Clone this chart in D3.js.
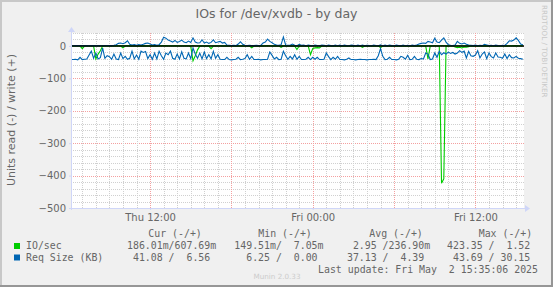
<!DOCTYPE html>
<html>
<head>
<meta charset="utf-8">
<script src="https://cdn.jsdelivr.net/npm/d3@7"></script>
<style>
  body { margin: 0; background: #f0f0f0; }
  svg { display: block; }
  text { font-family: "DejaVu Sans", sans-serif; fill: #666666; }
  .mono { font-family: "DejaVu Sans Mono", monospace; font-size: 9.9px; white-space: pre; }
</style>
</head>
<body>
<div id="chart"></div>
<script>
// first sample and sample step (minutes)
var firstSample = new Date(2025, 4, 1, 6, 10);
var stepMinutes = 10;
var timeStart = new Date(2025, 4, 1, 6, 10);
var timeEnd = new Date(2025, 4, 2, 15, 35);

// IO/sec, read (drawn below zero) and write
var ioRead = [
  0.2, 0.18, 0.22, 0.2, 0.25, 8, 0.2, 0.19, 0.21, 0.2,
  0.3, 40, 25, 15, 0.4, 0.2, 0.18, 0.2, 0.22, 0.2,
  0.19, 0.2, 0.25, 6, 0.2, 0.21, 0.18, 0.2, 0.2, 0.22,
  0.2, 0.19, 0.2, 0.21, 0.2, 0.18, 0.22, 0.2, 0.2, 0.19,
  0.2, 0.21, 0.2, 0.2, 0.18, 0.22, 0.2, 0.19, 0.2, 0.21,
  0.2, 0.2, 0.3, 1.5, 46, 30, 12, 0.5, 0.2, 0.21,
  0.2, 0.19, 8, 0.2, 0.2, 0.22, 0.18, 0.2, 0.2, 0.21,
  0.2, 0.19, 0.2, 0.2, 0.22, 0.2, 0.18, 0.2, 0.21, 0.2,
  6, 0.2, 0.19, 0.2, 0.21, 0.2, 0.2, 0.18, 0.22, 0.2,
  0.2, 0.19, 0.2, 4, 0.2, 0.21, 0.2, 0.18, 0.2, 0.2,
  11, 0.2, 0.19, 0.2, 0.22, 0.4, 27, 8, 6, 5,
  6, 0.3, 0.2, 0.19, 0.2, 0.21, 0.2, 0.18, 0.2, 0.2,
  0.22, 0.2, 0.19, 0.2, 0.2, 0.21, 0.2, 0.18, 0.2, 4,
  0.2, 0.21, 0.2, 0.19, 0.2, 0.2, 0.22, 5, 0.2, 0.2,
  0.19, 0.2, 0.21, 0.2, 0.2, 0.18, 0.2, 0.22, 0.2, 0.19,
  0.2, 0.2, 0.21, 0.2, 0.18, 0.2, 0.2, 0.3, 40, 0.5,
  0.2, 0.19, 0.2, 0.3, 423.35, 410, 0.4, 0.2, 0.21, 0.2,
  3, 5, 4, 6, 3, 4, 2, 0.3, 0.2, 0.19,
  0.2, 0.2, 0.21, 0.18, 0.2, 0.2, 0.22, 0.2, 0.19, 0.2,
  0.2, 0.21, 0.2, 0.18, 0.2, 0.2, 0.19, 0.2, 0.21, 0.2,
  0.19
];
var ioWrite = [
  0.2, 0.3, 0.1, 0.25, 0.4, 0.15, 0.2, 0.35, 0.1, 0.2,
  0.3, 0.2, 0.15, 0.25, 0.2, 0.4, 0.1, 0.2, 0.3, 0.2,
  0.5, 0.8, 0.6, 0.4, 0.7, 0.9, 0.3, 0.2, 0.25, 0.3,
  0.2, 0.3, 0.35, 0.4, 0.2, 0.25, 0.3, 0.2, 0.15, 0.6,
  1.2, 1.5, 1.1, 0.8, 0.7, 0.6, 0.9, 0.5, 0.7, 0.8,
  0.6, 0.5, 0.7, 0.6, 1.1, 0.5, 0.4, 0.5, 0.8, 0.4,
  0.5, 0.4, 0.6, 0.7, 0.4, 0.5, 0.6, 0.4, 0.5, 0.2,
  0.15, 0.1, 0.2, 0.1, 0.3, 0.5, 0.2, 0.1, 0.1, 0.15,
  0.1, 0.1, 0.2, 0.1, 0.15, 0.4, 0.5, 0.9, 0.6, 0.4,
  0.2, 0.15, 0.1, 0.2, 1.3, 0.2, 0.1, 0.1, 0.3, 0.1,
  0.05, 0.2, 0.1, 0.12, 0.05, 0.15, 0.07, 0.03, 0.12, 0.06,
  0.02, 0.15, 0.1, 0.03, 0.12, 0.05, 0.01, 0.14, 0.04, 0.11,
  0.03, 0.15, 0.05, 0.02, 0.13, 0.08, 0.03, 0.12, 0.04, 0.15,
  0.03, 0.1, 0.05, 0.02, 0.14, 0.06, 0.03, 0.15, 0.04, 0.11,
  0.02, 0.14, 0.05, 0.03, 0.12, 0.07, 0.01, 0.15, 0.04, 0.1,
  0.03, 0.13, 0.06, 0.15, 0.3, 0.4, 0.45, 0.4, 0.7, 0.6,
  0.5, 1.1, 0.6, 0.5, 0.9, 1.2, 0.6, 0.2, 0.1, 0.05,
  0.15, 0.7, 0.4, 0.3, 0.45, 0.25, 0.15, 0.1, 0.05, 0.12,
  0.04, 0.1, 0.05, 0.25, 0.15, 0.05, 0.1, 0.03, 0.12, 0.05,
  0.03, 0.11, 0.07, 0.4, 0.8, 0.75, 0.9, 1.2, 0.85, 0.6,
  0.61
];

// Req Size (KB), read (drawn below zero) and write
var reqRead = [
  42, 42, 41, 43, 35, 42, 41, 40, 28, 16,
  38, 22, 40, 36, 7, 38, 30, 33, 41, 25,
  40, 42, 22, 39, 32, 41, 38, 16, 40, 28,
  41, 16, 20, 17, 39, 27, 41, 22, 40, 16,
  30, 41, 22, 27, 16, 38, 41, 25, 40, 18,
  38, 40, 22, 39, 6.5, 25, 38, 22, 40, 18.5,
  39, 27, 40, 16.5, 38, 27, 41, 42, 42, 35,
  42, 43, 42, 41, 35, 42, 41, 39, 27, 41,
  32, 42, 42, 41, 43, 42, 42, 41, 18.5, 29,
  40, 35, 42, 41, 16.5, 30, 41, 32, 40, 27,
  41, 32, 42, 42, 41, 35, 42, 35, 41, 35,
  42, 42, 41, 21.6, 33, 42, 35, 41, 32, 42,
  42, 43, 41, 37, 42, 42, 43, 42, 41, 42,
  42, 43, 42, 42, 41, 42, 30, 8.2, 32, 42,
  41, 35, 42, 42, 43, 41, 32, 35, 41, 29,
  42, 41, 32, 41, 42, 39, 40, 21.6, 25, 42,
  40, 21.6, 35, 16.5, 27, 21, 25, 19, 23, 20,
  25, 22, 14.4, 20, 16, 37, 16.5, 30, 32, 28,
  14.4, 37, 25, 18.5, 39, 21.6, 33, 37, 21.6, 34,
  35, 38, 25, 39, 27, 36, 37, 32, 38, 39,
  41
];
var reqWrite = [
  1.2, 0.8, 1.5, 0.9, 1.1, 0.7, 1.3, 1.0, 0.8, 1.4,
  1.1, 0.9, 1.6, 1.0, 0.8, 1.2, 1.5, 0.9, 1.1, 2.0,
  4, 8, 9, 7, 10, 16, 5, 3, 4, 2,
  4, 3, 5, 8, 9, 6, 3, 4, 2, 4,
  12, 27, 24, 18, 15, 12, 17, 11, 14, 18,
  12, 10, 15, 11, 25, 12, 9, 10, 19, 9,
  12, 8, 11, 19, 10, 12, 14, 9, 11, 3,
  2, 1, 2, 1, 6, 13, 5, 2, 1, 2,
  1, 1, 2, 1, 2, 9, 12, 21, 14, 10,
  5, 3, 2, 4, 28, 3, 2, 2, 6, 2,
  1, 5, 2, 2.5, 0.8, 3, 1, 0.6, 2.8, 1.2,
  0.5, 3, 2, 0.7, 2.6, 1, 0.4, 2.9, 0.9, 2.4,
  0.6, 3.1, 1.1, 0.5, 2.7, 1.8, 0.6, 2.5, 0.9, 3,
  0.7, 2.2, 1, 0.5, 2.8, 1.3, 0.6, 3.2, 0.8, 2.4,
  0.5, 2.9, 1, 0.7, 2.6, 1.5, 0.4, 3, 0.9, 2.3,
  0.6, 2.7, 1.2, 3, 6, 8, 9, 8, 14, 12,
  10, 24, 12, 10, 18, 25, 12, 4, 2, 1,
  3, 14, 8, 6, 9, 5, 3, 2, 1, 2.5,
  0.8, 2, 1, 5, 3, 1, 2.2, 0.7, 2.5, 1,
  0.6, 2.4, 1.5, 8, 16, 15, 18, 25, 17, 6,
  4
];

// axis ticks and labels
var yTicks = [0, -100, -200, -300, -400, -500];
var xTickTimes = [new Date(2025, 4, 1, 12, 0), new Date(2025, 4, 2, 0, 0), new Date(2025, 4, 2, 12, 0)];
var xTickLabels = ["Thu 12:00", "Fri 00:00", "Fri 12:00"];

// legend
var seriesNames = ["IO/sec", "Req Size (KB)"];
var seriesColors = ["#00cc00", "#0066b3"];
var legendHeaders = ["Cur (-/+)", "Min (-/+)", "Avg (-/+)", "Max (-/+)"];
var ioStats = ["186.01m/607.69m", "149.51m/  7.05m", "  2.95 /236.90m", "423.35 /  1.52 "];
var reqStats = [" 41.08 /  6.56 ", "  6.25 /  0.00 ", " 37.13 /  4.39 ", " 43.69 / 30.15 "];
var lastUpdate = "Last update: Fri May  2 15:35:06 2025";

var width = 553, height = 287;
var plot = {left: 71, right: 524, top: 33, bottom: 208};

var svg = d3.select("#chart").append("svg")
    .attr("width", width)
    .attr("height", height);

// background and 3d frame
svg.append("rect").attr("width", width).attr("height", height).attr("fill", "#f0f0f0");
svg.append("path").attr("d", "M0,1H552M1,0V286").attr("stroke", "#c8c8c8").attr("stroke-width", 2);
svg.append("path").attr("d", "M0,286H553M552,0V287").attr("stroke", "#969696").attr("stroke-width", 2);

// scales
var x = d3.scaleTime().domain([timeStart, timeEnd]).range([plot.left, plot.right]);
var y = d3.scaleLinear().domain([-500, 40]).range([plot.bottom, plot.top]);

svg.append("rect")
    .attr("x", plot.left).attr("y", plot.top)
    .attr("width", plot.right - plot.left).attr("height", plot.bottom - plot.top)
    .attr("fill", "#ffffff");

// grid
var grid = svg.append("g").attr("shape-rendering", "crispEdges").attr("stroke-dasharray", "1,1");
d3.range(-500, 41, 20).forEach(function(v) {
  var yy = Math.round(y(v)) + 0.5;
  grid.append("line")
      .attr("x1", plot.left).attr("x2", plot.right)
      .attr("y1", yy).attr("y2", yy)
      .attr("stroke", v % 100 === 0 ? "#f4a0a0" : "#d0d0d0");
});
d3.timeHour.range(timeStart, timeEnd).forEach(function(t) {
  var xx = Math.round(x(t)) + 0.5;
  grid.append("line")
      .attr("x1", xx).attr("x2", xx)
      .attr("y1", plot.top).attr("y2", plot.bottom)
      .attr("stroke", t.getHours() % 6 === 0 ? "#f4a0a0" : "#d0d0d0");
});

// axes
var yAxis = svg.append("g")
    .attr("transform", "translate(" + plot.left + ",0)")
    .call(d3.axisLeft(y).tickValues(yTicks).tickSize(2).tickPadding(3));
var xAxis = svg.append("g")
    .attr("transform", "translate(0," + plot.bottom + ")")
    .call(d3.axisBottom(x).tickValues(xTickTimes).tickSize(2).tickPadding(4)
      .tickFormat(function(d, i) { return xTickLabels[i]; }));
[yAxis, xAxis].forEach(function(a) {
  a.select(".domain").remove();
  a.selectAll("line").attr("stroke", "#cfd6f8");
  a.selectAll("text").attr("fill", "#666666").style("font-size", "10px")
      .style("font-family", "'DejaVu Sans', sans-serif");
});

// series lines
var line = d3.line()
    .x(function(d, i) { return x(d3.timeMinute.offset(firstSample, i * stepMinutes)); })
    .y(function(d) { return y(d); });

function drawLine(values, sign, color) {
  svg.append("path")
      .datum(values.map(function(v) { return sign * v; }))
      .attr("fill", "none")
      .attr("stroke", color)
      .attr("stroke-width", 1.1)
      .attr("d", line);
}
drawLine(ioRead, -1, seriesColors[0]);
drawLine(ioWrite, 1, seriesColors[0]);
drawLine(reqRead, -1, seriesColors[1]);
drawLine(reqWrite, 1, seriesColors[1]);

// zero rule
svg.append("line")
    .attr("x1", plot.left).attr("x2", plot.right)
    .attr("y1", y(0)).attr("y2", y(0))
    .attr("stroke", "#000000").attr("stroke-width", 1.6);

// axis lines with arrows
svg.append("path")
    .attr("d", "M" + (plot.left - 2) + "," + (plot.bottom + 0.5) + "H" + (plot.right + 1))
    .attr("stroke", "#cfd6f8").attr("shape-rendering", "crispEdges");
svg.append("path")
    .attr("d", "M" + (plot.left + 0.5) + "," + (plot.bottom + 2) + "V" + (plot.top - 1))
    .attr("stroke", "#cfd6f8").attr("shape-rendering", "crispEdges");
svg.append("path")
    .attr("d", "M" + (plot.right + 1) + "," + (plot.bottom - 3) + "l5,3.5l-5,3.5z")
    .attr("fill", "#cfd6f8");
svg.append("path")
    .attr("d", "M" + (plot.left - 3) + "," + (plot.top - 1) + "l3.5,-5l3.5,5z")
    .attr("fill", "#cfd6f8");

// titles
svg.append("text")
    .attr("x", 276.5).attr("y", 18)
    .attr("text-anchor", "middle")
    .style("font-size", "12.5px")
    .text("IOs for /dev/xvdb - by day");
svg.append("text")
    .attr("transform", "translate(14.5,120) rotate(-90)")
    .attr("text-anchor", "middle")
    .style("font-size", "11px")
    .text("Units read (-) / write (+)");
svg.append("text")
    .attr("transform", "translate(542,5) rotate(90)")
    .style("font-size", "7.2px")
    .style("fill", "#c8c8c8")
    .text("RRDTOOL / TOBI OETIKER");

// legend
var headerX = [148.3, 258.3, 369.3, 478.7];
var colX = [127, 234.3, 341, 447];
var rowY = [249, 260.5];

legendHeaders.forEach(function(h, i) {
  svg.append("text").attr("class", "mono").attr("x", headerX[i]).attr("y", 236.5).text(h);
});
[ioStats, reqStats].forEach(function(stats, r) {
  svg.append("rect")
      .attr("x", 14).attr("y", rowY[r] - 6)
      .attr("width", 6).attr("height", 6)
      .attr("fill", seriesColors[r]);
  svg.append("text").attr("class", "mono").attr("x", 26).attr("y", rowY[r]).text(seriesNames[r]);
  stats.forEach(function(s, i) {
    svg.append("text").attr("class", "mono").attr("x", colX[i]).attr("y", rowY[r]).text(s);
  });
});
svg.append("text").attr("class", "mono")
    .attr("x", 538).attr("y", 272.5)
    .attr("text-anchor", "end")
    .text(lastUpdate);
svg.append("text")
    .attr("x", 277).attr("y", 279)
    .attr("text-anchor", "middle")
    .style("font-size", "7.2px").style("fill", "#cccccc")
    .text("Munin 2.0.33");
</script>
</body>
</html>
